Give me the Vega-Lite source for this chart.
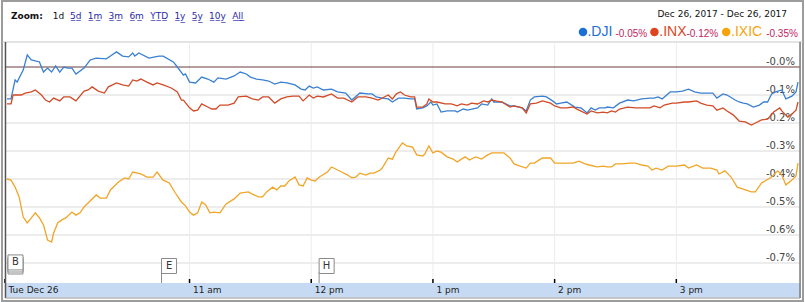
{
  "$schema": "https://vega.github.io/schema/vega-lite/v6.json",
  "width": 805,
  "height": 302,
  "autosize": {"type": "fit", "contains": "padding"},
  "padding": 0,
  "background": "white",
  "config": {"view": {"stroke": null}, "font": "DejaVu Sans"},
  "data": {"values": [{}]},
  "datasets": {
    "dji": [
      {"m":0,"v":-0.114},{"m":2,"v":-0.114},{"m":4,"v":-0.046},{"m":5,"v":-0.054},{"m":8,"v":-0.011},{"m":10,"v":0.043},{"m":12,"v":0.025},{"m":16,"v":0.018},{"m":18,"v":-0.018},{"m":20,"v":-0.004},{"m":22,"v":-0.018},{"m":24,"v":0.004},{"m":26,"v":-0.018},{"m":28,"v":0},{"m":30,"v":-0.004},{"m":32,"v":-0.004},{"m":34,"v":-0.025},{"m":38,"v":-0.004},{"m":41,"v":0.025},{"m":44,"v":0.032},{"m":49,"v":0.029},{"m":51,"v":0.039},{"m":54,"v":0.054},{"m":57,"v":0.039},{"m":60,"v":0.036},{"m":62,"v":0.05},{"m":63,"v":0.039},{"m":65,"v":0.05},{"m":70,"v":0.032},{"m":73,"v":0.036},{"m":75,"v":0.039},{"m":77,"v":0.039},{"m":82,"v":0.018},{"m":84,"v":0},{"m":87,"v":-0.029},{"m":88,"v":-0.025},{"m":90,"v":-0.054},{"m":93,"v":-0.057},{"m":96,"v":-0.036},{"m":99,"v":-0.043},{"m":102,"v":-0.054},{"m":104,"v":-0.039},{"m":108,"v":-0.043},{"m":112,"v":-0.032},{"m":115,"v":-0.018},{"m":118,"v":-0.025},{"m":120,"v":-0.036},{"m":123,"v":-0.043},{"m":126,"v":-0.046},{"m":129,"v":-0.05},{"m":132,"v":-0.061},{"m":135,"v":-0.054},{"m":138,"v":-0.057},{"m":142,"v":-0.064},{"m":145,"v":-0.079},{"m":147,"v":-0.082},{"m":149,"v":-0.068},{"m":151,"v":-0.075},{"m":153,"v":-0.071},{"m":156,"v":-0.082},{"m":160,"v":-0.079},{"m":163,"v":-0.089},{"m":167,"v":-0.093},{"m":170,"v":-0.118},{"m":174,"v":-0.093},{"m":178,"v":-0.096},{"m":180,"v":-0.096},{"m":182,"v":-0.107},{"m":185,"v":-0.111},{"m":188,"v":-0.114},{"m":190,"v":-0.125},{"m":193,"v":-0.111},{"m":196,"v":-0.111},{"m":199,"v":-0.114},{"m":201,"v":-0.114},{"m":202,"v":-0.15},{"m":205,"v":-0.146},{"m":207,"v":-0.139},{"m":209,"v":-0.125},{"m":210,"v":-0.136},{"m":212,"v":-0.132},{"m":214,"v":-0.161},{"m":217,"v":-0.157},{"m":221,"v":-0.157},{"m":222,"v":-0.161},{"m":225,"v":-0.15},{"m":227,"v":-0.154},{"m":232,"v":-0.146},{"m":234,"v":-0.132},{"m":237,"v":-0.136},{"m":239,"v":-0.114},{"m":240,"v":-0.125},{"m":244,"v":-0.125},{"m":248,"v":-0.139},{"m":250,"v":-0.139},{"m":254,"v":-0.146},{"m":256,"v":-0.157},{"m":258,"v":-0.118},{"m":260,"v":-0.107},{"m":264,"v":-0.104},{"m":266,"v":-0.107},{"m":269,"v":-0.121},{"m":271,"v":-0.132},{"m":273,"v":-0.129},{"m":276,"v":-0.125},{"m":280,"v":-0.143},{"m":283,"v":-0.146},{"m":286,"v":-0.164},{"m":288,"v":-0.146},{"m":290,"v":-0.154},{"m":292,"v":-0.146},{"m":295,"v":-0.146},{"m":296,"v":-0.143},{"m":299,"v":-0.146},{"m":302,"v":-0.129},{"m":306,"v":-0.118},{"m":309,"v":-0.121},{"m":313,"v":-0.114},{"m":317,"v":-0.111},{"m":319,"v":-0.111},{"m":321,"v":-0.107},{"m":323,"v":-0.114},{"m":327,"v":-0.089},{"m":330,"v":-0.089},{"m":333,"v":-0.086},{"m":336,"v":-0.079},{"m":339,"v":-0.089},{"m":342,"v":-0.093},{"m":345,"v":-0.093},{"m":348,"v":-0.093},{"m":350,"v":-0.111},{"m":353,"v":-0.096},{"m":355,"v":-0.1},{"m":359,"v":-0.118},{"m":361,"v":-0.125},{"m":363,"v":-0.129},{"m":365,"v":-0.132},{"m":368,"v":-0.143},{"m":371,"v":-0.136},{"m":373,"v":-0.125},{"m":375,"v":-0.125},{"m":377,"v":-0.096},{"m":379,"v":-0.089},{"m":382,"v":-0.082},{"m":384,"v":-0.114},{"m":387,"v":-0.104},{"m":389,"v":-0.089},{"m":390,"v":-0.054}
    ],
    "inx": [
      {"m":0,"v":-0.132},{"m":2,"v":-0.132},{"m":3,"v":-0.1},{"m":7,"v":-0.1},{"m":9,"v":-0.093},{"m":12,"v":-0.089},{"m":14,"v":-0.082},{"m":17,"v":-0.1},{"m":19,"v":-0.118},{"m":21,"v":-0.125},{"m":23,"v":-0.111},{"m":26,"v":-0.121},{"m":28,"v":-0.107},{"m":31,"v":-0.107},{"m":34,"v":-0.121},{"m":38,"v":-0.086},{"m":40,"v":-0.082},{"m":42,"v":-0.071},{"m":45,"v":-0.086},{"m":48,"v":-0.093},{"m":50,"v":-0.071},{"m":54,"v":-0.057},{"m":57,"v":-0.064},{"m":60,"v":-0.068},{"m":62,"v":-0.046},{"m":64,"v":-0.05},{"m":66,"v":-0.043},{"m":69,"v":-0.054},{"m":72,"v":-0.064},{"m":74,"v":-0.057},{"m":77,"v":-0.064},{"m":81,"v":-0.075},{"m":84,"v":-0.089},{"m":86,"v":-0.118},{"m":87,"v":-0.118},{"m":90,"v":-0.146},{"m":92,"v":-0.157},{"m":94,"v":-0.154},{"m":96,"v":-0.132},{"m":99,"v":-0.143},{"m":101,"v":-0.15},{"m":103,"v":-0.15},{"m":105,"v":-0.136},{"m":109,"v":-0.136},{"m":112,"v":-0.129},{"m":114,"v":-0.107},{"m":118,"v":-0.104},{"m":121,"v":-0.114},{"m":124,"v":-0.118},{"m":126,"v":-0.107},{"m":129,"v":-0.107},{"m":132,"v":-0.129},{"m":135,"v":-0.114},{"m":138,"v":-0.107},{"m":141,"v":-0.104},{"m":144,"v":-0.104},{"m":146,"v":-0.121},{"m":149,"v":-0.1},{"m":151,"v":-0.111},{"m":153,"v":-0.104},{"m":156,"v":-0.107},{"m":160,"v":-0.096},{"m":163,"v":-0.111},{"m":166,"v":-0.111},{"m":170,"v":-0.125},{"m":173,"v":-0.107},{"m":177,"v":-0.107},{"m":180,"v":-0.111},{"m":183,"v":-0.118},{"m":186,"v":-0.107},{"m":188,"v":-0.1},{"m":190,"v":-0.114},{"m":192,"v":-0.096},{"m":194,"v":-0.089},{"m":196,"v":-0.1},{"m":199,"v":-0.107},{"m":201,"v":-0.107},{"m":202,"v":-0.143},{"m":205,"v":-0.143},{"m":207,"v":-0.132},{"m":208,"v":-0.114},{"m":210,"v":-0.125},{"m":212,"v":-0.125},{"m":216,"v":-0.132},{"m":219,"v":-0.132},{"m":222,"v":-0.139},{"m":224,"v":-0.132},{"m":227,"v":-0.136},{"m":229,"v":-0.129},{"m":232,"v":-0.132},{"m":235,"v":-0.121},{"m":237,"v":-0.125},{"m":239,"v":-0.118},{"m":241,"v":-0.121},{"m":244,"v":-0.125},{"m":248,"v":-0.143},{"m":250,"v":-0.139},{"m":254,"v":-0.146},{"m":256,"v":-0.164},{"m":258,"v":-0.132},{"m":261,"v":-0.129},{"m":264,"v":-0.121},{"m":268,"v":-0.129},{"m":270,"v":-0.139},{"m":273,"v":-0.146},{"m":276,"v":-0.146},{"m":279,"v":-0.143},{"m":282,"v":-0.154},{"m":286,"v":-0.168},{"m":288,"v":-0.157},{"m":291,"v":-0.164},{"m":294,"v":-0.161},{"m":296,"v":-0.164},{"m":298,"v":-0.157},{"m":300,"v":-0.161},{"m":302,"v":-0.15},{"m":306,"v":-0.143},{"m":310,"v":-0.146},{"m":313,"v":-0.146},{"m":317,"v":-0.146},{"m":319,"v":-0.139},{"m":322,"v":-0.146},{"m":324,"v":-0.136},{"m":328,"v":-0.129},{"m":330,"v":-0.129},{"m":334,"v":-0.125},{"m":336,"v":-0.125},{"m":340,"v":-0.121},{"m":342,"v":-0.129},{"m":345,"v":-0.136},{"m":348,"v":-0.139},{"m":350,"v":-0.154},{"m":353,"v":-0.146},{"m":355,"v":-0.157},{"m":358,"v":-0.171},{"m":361,"v":-0.193},{"m":364,"v":-0.196},{"m":367,"v":-0.207},{"m":369,"v":-0.2},{"m":372,"v":-0.189},{"m":375,"v":-0.186},{"m":378,"v":-0.161},{"m":381,"v":-0.146},{"m":382,"v":-0.157},{"m":385,"v":-0.179},{"m":387,"v":-0.168},{"m":389,"v":-0.154},{"m":390,"v":-0.125}
    ],
    "ixic": [
      {"m":0,"v":-0.4},{"m":2,"v":-0.404},{"m":4,"v":-0.429},{"m":6,"v":-0.464},{"m":8,"v":-0.536},{"m":10,"v":-0.557},{"m":12,"v":-0.539},{"m":14,"v":-0.521},{"m":16,"v":-0.539},{"m":18,"v":-0.564},{"m":20,"v":-0.618},{"m":22,"v":-0.625},{"m":23,"v":-0.593},{"m":25,"v":-0.557},{"m":27,"v":-0.546},{"m":29,"v":-0.539},{"m":32,"v":-0.518},{"m":34,"v":-0.529},{"m":36,"v":-0.521},{"m":38,"v":-0.5},{"m":40,"v":-0.486},{"m":44,"v":-0.457},{"m":46,"v":-0.468},{"m":49,"v":-0.468},{"m":51,"v":-0.439},{"m":55,"v":-0.411},{"m":58,"v":-0.396},{"m":60,"v":-0.4},{"m":62,"v":-0.375},{"m":66,"v":-0.382},{"m":69,"v":-0.393},{"m":72,"v":-0.393},{"m":74,"v":-0.375},{"m":77,"v":-0.404},{"m":80,"v":-0.414},{"m":83,"v":-0.45},{"m":86,"v":-0.482},{"m":88,"v":-0.496},{"m":90,"v":-0.518},{"m":92,"v":-0.529},{"m":94,"v":-0.521},{"m":96,"v":-0.482},{"m":98,"v":-0.493},{"m":100,"v":-0.521},{"m":102,"v":-0.518},{"m":105,"v":-0.521},{"m":108,"v":-0.489},{"m":112,"v":-0.471},{"m":115,"v":-0.45},{"m":119,"v":-0.446},{"m":121,"v":-0.454},{"m":124,"v":-0.464},{"m":126,"v":-0.464},{"m":128,"v":-0.446},{"m":131,"v":-0.429},{"m":133,"v":-0.439},{"m":135,"v":-0.425},{"m":137,"v":-0.425},{"m":139,"v":-0.407},{"m":142,"v":-0.393},{"m":144,"v":-0.421},{"m":146,"v":-0.425},{"m":148,"v":-0.396},{"m":150,"v":-0.404},{"m":152,"v":-0.407},{"m":154,"v":-0.393},{"m":158,"v":-0.375},{"m":160,"v":-0.357},{"m":163,"v":-0.368},{"m":165,"v":-0.375},{"m":168,"v":-0.386},{"m":170,"v":-0.396},{"m":172,"v":-0.393},{"m":174,"v":-0.379},{"m":177,"v":-0.386},{"m":179,"v":-0.379},{"m":181,"v":-0.379},{"m":184,"v":-0.368},{"m":185,"v":-0.361},{"m":188,"v":-0.325},{"m":190,"v":-0.329},{"m":192,"v":-0.3},{"m":195,"v":-0.271},{"m":197,"v":-0.282},{"m":200,"v":-0.286},{"m":202,"v":-0.314},{"m":205,"v":-0.318},{"m":206,"v":-0.311},{"m":208,"v":-0.282},{"m":210,"v":-0.307},{"m":212,"v":-0.3},{"m":214,"v":-0.304},{"m":217,"v":-0.321},{"m":220,"v":-0.329},{"m":222,"v":-0.339},{"m":224,"v":-0.329},{"m":226,"v":-0.321},{"m":228,"v":-0.332},{"m":231,"v":-0.321},{"m":234,"v":-0.329},{"m":237,"v":-0.314},{"m":239,"v":-0.307},{"m":242,"v":-0.307},{"m":245,"v":-0.307},{"m":248,"v":-0.325},{"m":250,"v":-0.346},{"m":253,"v":-0.354},{"m":256,"v":-0.361},{"m":258,"v":-0.343},{"m":260,"v":-0.343},{"m":263,"v":-0.329},{"m":264,"v":-0.325},{"m":268,"v":-0.325},{"m":270,"v":-0.343},{"m":273,"v":-0.343},{"m":276,"v":-0.343},{"m":279,"v":-0.343},{"m":282,"v":-0.336},{"m":285,"v":-0.346},{"m":287,"v":-0.35},{"m":291,"v":-0.357},{"m":294,"v":-0.354},{"m":296,"v":-0.357},{"m":298,"v":-0.357},{"m":300,"v":-0.346},{"m":303,"v":-0.346},{"m":307,"v":-0.343},{"m":310,"v":-0.343},{"m":313,"v":-0.35},{"m":316,"v":-0.354},{"m":318,"v":-0.368},{"m":320,"v":-0.361},{"m":323,"v":-0.368},{"m":326,"v":-0.354},{"m":330,"v":-0.354},{"m":334,"v":-0.35},{"m":336,"v":-0.361},{"m":340,"v":-0.35},{"m":343,"v":-0.361},{"m":347,"v":-0.361},{"m":350,"v":-0.368},{"m":351,"v":-0.382},{"m":354,"v":-0.371},{"m":357,"v":-0.393},{"m":360,"v":-0.429},{"m":363,"v":-0.436},{"m":367,"v":-0.446},{"m":369,"v":-0.446},{"m":372,"v":-0.414},{"m":377,"v":-0.393},{"m":380,"v":-0.371},{"m":382,"v":-0.386},{"m":384,"v":-0.421},{"m":387,"v":-0.404},{"m":389,"v":-0.389},{"m":390,"v":-0.343}
    ],
    "levels": [{"v":-0.1},{"v":-0.2},{"v":-0.3},{"v":-0.4},{"v":-0.5},{"v":-0.6},{"v":-0.7}],
    "ylabels": [{"v":0,"label":"-0.0%"},{"v":-0.1,"label":"-0.1%"},{"v":-0.2,"label":"-0.2%"},{"v":-0.3,"label":"-0.3%"},{"v":-0.4,"label":"-0.4%"},{"v":-0.5,"label":"-0.5%"},{"v":-0.6,"label":"-0.6%"},{"v":-0.7,"label":"-0.7%"}],
    "hours": [{"m":90},{"m":150},{"m":210},{"m":270},{"m":330}],
    "xlabels": [{"m":-1,"label":"Tue Dec 26"},{"m":90,"label":"11 am"},{"m":150,"label":"12 pm"},{"m":210,"label":"1 pm"},{"m":270,"label":"2 pm"},{"m":330,"label":"3 pm"}],
    "flags": [{"label":"E","m":76.2},{"label":"H","m":153.9}]
  },
  "layer": [
    {
      "mark": {"type": "rect", "fill": null, "stroke": "#9c9c9c", "strokeWidth": 2},
      "encoding": {
        "x": {"datum": -2.46, "type": "quantitative", "axis": null, "scale": {"domain": [-2.95, 392.95], "nice": false, "zero": false}},
        "x2": {"datum": 392.46},
        "y": {"datum": 0.2357, "type": "quantitative", "axis": null, "scale": {"domain": [-0.8393, 0.2393], "nice": false, "zero": false}},
        "y2": {"datum": -0.8357}
      }
    },
    {
      "mark": {"type": "rule", "color": "#c8c8c8", "strokeWidth": 1},
      "encoding": {
        "x": {"datum": -2.46, "type": "quantitative", "axis": null},
        "x2": {"datum": 392.46},
        "y": {"datum": 0.0893, "type": "quantitative", "axis": null}
      }
    },
    {
      "mark": {"type": "rect", "fill": "#c6dbf3"},
      "encoding": {
        "x": {"datum": -0.74, "type": "quantitative", "axis": null},
        "x2": {"datum": 391},
        "y": {"datum": -0.7714, "type": "quantitative", "axis": null},
        "y2": {"datum": -0.8214}
      }
    },
    {
      "data": {"name": "levels"},
      "mark": {"type": "rule", "color": "#dadada", "strokeWidth": 1},
      "encoding": {
        "x": {"datum": -0.74, "type": "quantitative", "axis": null},
        "x2": {"datum": 391},
        "y": {"field": "v", "type": "quantitative", "axis": null}
      }
    },
    {
      "data": {"name": "hours"},
      "mark": {"type": "rule", "color": "#ececec", "strokeWidth": 1},
      "encoding": {
        "x": {"field": "m", "type": "quantitative", "axis": null},
        "y": {"datum": 0.0893, "type": "quantitative", "axis": null},
        "y2": {"datum": -0.7714}
      }
    },
    {
      "mark": {"type": "rule", "color": "#6e3d3d", "strokeWidth": 1},
      "encoding": {
        "x": {"datum": -0.74, "type": "quantitative", "axis": null},
        "x2": {"datum": 391},
        "y": {"datum": 0, "type": "quantitative", "axis": null}
      }
    },
    {
      "data": {"name": "ylabels"},
      "mark": {"type": "text", "font": "DejaVu Sans", "fontSize": 10, "color": "#444444", "align": "right", "baseline": "alphabetic", "dy": -2},
      "encoding": {
        "x": {"datum": 388.5, "type": "quantitative", "axis": null},
        "y": {"field": "v", "type": "quantitative", "axis": null},
        "text": {"field": "label"}
      }
    },
    {
      "data": {"name": "dji"},
      "mark": {"type": "line", "color": "#3a80d2", "strokeWidth": 1.3},
      "encoding": {
        "x": {"field": "m", "type": "quantitative", "axis": null},
        "y": {"field": "v", "type": "quantitative", "axis": null}
      }
    },
    {
      "data": {"name": "inx"},
      "mark": {"type": "line", "color": "#d24b27", "strokeWidth": 1.3},
      "encoding": {
        "x": {"field": "m", "type": "quantitative", "axis": null},
        "y": {"field": "v", "type": "quantitative", "axis": null}
      }
    },
    {
      "data": {"name": "ixic"},
      "mark": {"type": "line", "color": "#f1a526", "strokeWidth": 1.3},
      "encoding": {
        "x": {"field": "m", "type": "quantitative", "axis": null},
        "y": {"field": "v", "type": "quantitative", "axis": null}
      }
    },
    {
      "data": {"name": "flags"},
      "mark": {"type": "rule", "color": "#8a8a8a", "strokeWidth": 1},
      "encoding": {
        "x": {"field": "m", "type": "quantitative", "axis": null},
        "y": {"datum": -0.7321, "type": "quantitative", "axis": null},
        "y2": {"datum": -0.7714}
      }
    },
    {
      "data": {"name": "flags"},
      "mark": {"type": "point", "shape": "square", "size": 225, "filled": true, "fill": "white", "stroke": "#8a8a8a", "strokeWidth": 1, "opacity": 1, "xOffset": 7.5},
      "encoding": {
        "x": {"field": "m", "type": "quantitative", "axis": null},
        "y": {"datum": -0.7107, "type": "quantitative", "axis": null}
      }
    },
    {
      "data": {"name": "flags"},
      "mark": {"type": "text", "xOffset": 7.5, "font": "DejaVu Sans", "fontSize": 10, "color": "#333333", "align": "center", "baseline": "middle"},
      "encoding": {
        "x": {"field": "m", "type": "quantitative", "axis": null},
        "y": {"datum": -0.7107, "type": "quantitative", "axis": null},
        "text": {"field": "label"}
      }
    },
    {
      "mark": {"type": "point", "shape": "square", "size": 225, "filled": true, "fill": "white", "stroke": "#8a8a8a", "strokeWidth": 1, "opacity": 1, "xOffset": 7.5},
      "encoding": {
        "x": {"datum": 0.5, "type": "quantitative", "axis": null},
        "y": {"datum": -0.7125, "type": "quantitative", "axis": null}
      }
    },
    {
      "mark": {"type": "point", "shape": "square", "size": 225, "filled": true, "fill": "white", "stroke": "#8a8a8a", "strokeWidth": 1, "opacity": 1, "xOffset": 7.5},
      "encoding": {
        "x": {"datum": 0.5, "type": "quantitative", "axis": null},
        "y": {"datum": -0.7054, "type": "quantitative", "axis": null}
      }
    },
    {
      "mark": {"type": "point", "shape": "square", "size": 225, "filled": true, "fill": "white", "stroke": "#8a8a8a", "strokeWidth": 1, "opacity": 1, "xOffset": 7.5},
      "encoding": {
        "x": {"datum": 0.5, "type": "quantitative", "axis": null},
        "y": {"datum": -0.698, "type": "quantitative", "axis": null}
      }
    },
    {
      "mark": {"type": "text", "xOffset": 7.5, "font": "DejaVu Sans", "fontSize": 10, "color": "#333333", "align": "center", "baseline": "middle", "text": "B"},
      "encoding": {
        "x": {"datum": 0.5, "type": "quantitative", "axis": null},
        "y": {"datum": -0.698, "type": "quantitative", "axis": null}
      }
    },
    {
      "data": {"name": "xlabels"},
      "mark": {"type": "rule", "color": "#000000", "strokeWidth": 1.5},
      "encoding": {
        "x": {"field": "m", "type": "quantitative", "axis": null},
        "y": {"datum": -0.7571, "type": "quantitative", "axis": null},
        "y2": {"datum": -0.7714}
      }
    },
    {
      "data": {"name": "xlabels"},
      "mark": {"type": "text", "xOffset": 3.5, "font": "DejaVu Sans", "fontSize": 9, "color": "#222222", "align": "left", "baseline": "alphabetic"},
      "encoding": {
        "x": {"field": "m", "type": "quantitative", "axis": null},
        "y": {"datum": -0.8071, "type": "quantitative", "axis": null},
        "text": {"field": "label"}
      }
    },
    {
      "mark": {"type": "rule", "color": "#555555", "strokeWidth": 1.5},
      "encoding": {
        "x": {"datum": -0.74, "type": "quantitative", "axis": null},
        "y": {"datum": 0.0893, "type": "quantitative", "axis": null},
        "y2": {"datum": -0.825}
      }
    },
    {
      "mark": {"type": "rule", "color": "#777777", "strokeWidth": 1.5},
      "encoding": {
        "x": {"datum": 391, "type": "quantitative", "axis": null},
        "y": {"datum": 0.0893, "type": "quantitative", "axis": null},
        "y2": {"datum": -0.825}
      }
    },
    {
      "mark": {"type": "rule", "color": "#8c8c8c", "strokeWidth": 1},
      "encoding": {
        "x": {"datum": -0.74, "type": "quantitative", "axis": null},
        "x2": {"datum": 391},
        "y": {"datum": -0.825, "type": "quantitative", "axis": null}
      }
    },
    {
      "mark": {"type": "text", "text": "Zoom:", "font": "DejaVu Sans", "fontSize": 9, "fontWeight": "bold", "color": "#111111", "align": "left", "baseline": "alphabetic"},
      "encoding": {
        "x": {"datum": 1.97, "type": "quantitative", "axis": null},
        "y": {"datum": 0.1714, "type": "quantitative", "axis": null}
      }
    },
    {
      "mark": {"type": "text", "text": "1d", "font": "DejaVu Sans", "fontSize": 9, "color": "#111111", "align": "left", "baseline": "alphabetic"},
      "encoding": {
        "x": {"datum": 22.6, "type": "quantitative", "axis": null},
        "y": {"datum": 0.1714, "type": "quantitative", "axis": null}
      }
    },
    {
      "mark": {"type": "text", "text": "5\u0332d\u0332\u2002\u20091\u0332m\u0332\u2002\u20093\u0332m\u0332\u2002\u20096\u0332m\u0332\u2002\u2009Y\u0332T\u0332D\u0332\u2002\u20091\u0332y\u0332\u2002\u20095\u0332y\u0332\u2002\u20091\u03320\u0332y\u0332\u2002\u2009A\u0332l\u0332l\u0332", "font": "DejaVu Sans", "fontSize": 9, "color": "#2a2aaa", "align": "left", "baseline": "alphabetic"},
      "encoding": {
        "x": {"datum": 31.1, "type": "quantitative", "axis": null},
        "y": {"datum": 0.1714, "type": "quantitative", "axis": null}
      }
    },
    {
      "mark": {"type": "text", "text": "Dec 26, 2017  -  Dec 26, 2017", "font": "DejaVu Sans", "fontSize": 9, "color": "#111111", "align": "right", "baseline": "alphabetic"},
      "encoding": {
        "x": {"datum": 384.6, "type": "quantitative", "axis": null},
        "y": {"datum": 0.1786, "type": "quantitative", "axis": null}
      }
    },
    {
      "mark": {"type": "point", "shape": "circle", "size": 72, "filled": true, "opacity": 1, "color": "#1d6fd8"},
      "encoding": {
        "x": {"datum": 284.0, "type": "quantitative", "axis": null},
        "y": {"datum": 0.125, "type": "quantitative", "axis": null}
      }
    },
    {
      "mark": {"type": "point", "shape": "circle", "size": 72, "filled": true, "opacity": 1, "color": "#dc451e"},
      "encoding": {
        "x": {"datum": 319.2, "type": "quantitative", "axis": null},
        "y": {"datum": 0.125, "type": "quantitative", "axis": null}
      }
    },
    {
      "mark": {"type": "point", "shape": "circle", "size": 72, "filled": true, "opacity": 1, "color": "#f7a30c"},
      "encoding": {
        "x": {"datum": 354.6, "type": "quantitative", "axis": null},
        "y": {"datum": 0.125, "type": "quantitative", "axis": null}
      }
    },
    {
      "mark": {"type": "text", "text": ".DJI", "font": "Liberation Sans", "fontSize": 14, "color": "#1d6fd8", "align": "left", "baseline": "alphabetic"},
      "encoding": {
        "x": {"datum": 286.2, "type": "quantitative", "axis": null},
        "y": {"datum": 0.1107, "type": "quantitative", "axis": null}
      }
    },
    {
      "mark": {"type": "text", "text": ".INX", "font": "Liberation Sans", "fontSize": 14, "color": "#dc451e", "align": "left", "baseline": "alphabetic"},
      "encoding": {
        "x": {"datum": 321.6, "type": "quantitative", "axis": null},
        "y": {"datum": 0.1107, "type": "quantitative", "axis": null}
      }
    },
    {
      "mark": {"type": "text", "text": ".IXIC", "font": "Liberation Sans", "fontSize": 14, "color": "#f7a30c", "align": "left", "baseline": "alphabetic"},
      "encoding": {
        "x": {"datum": 357.0, "type": "quantitative", "axis": null},
        "y": {"datum": 0.1107, "type": "quantitative", "axis": null}
      }
    },
    {
      "mark": {"type": "text", "text": "-0.05%", "font": "Liberation Sans", "fontSize": 10, "color": "#c0245e", "align": "left", "baseline": "alphabetic"},
      "encoding": {
        "x": {"datum": 300.0, "type": "quantitative", "axis": null},
        "y": {"datum": 0.1054, "type": "quantitative", "axis": null}
      }
    },
    {
      "mark": {"type": "text", "text": "-0.12%", "font": "Liberation Sans", "fontSize": 10, "color": "#c0245e", "align": "left", "baseline": "alphabetic"},
      "encoding": {
        "x": {"datum": 335.0, "type": "quantitative", "axis": null},
        "y": {"datum": 0.1054, "type": "quantitative", "axis": null}
      }
    },
    {
      "mark": {"type": "text", "text": "-0.35%", "font": "Liberation Sans", "fontSize": 10, "color": "#c0245e", "align": "left", "baseline": "alphabetic"},
      "encoding": {
        "x": {"datum": 374.3, "type": "quantitative", "axis": null},
        "y": {"datum": 0.1054, "type": "quantitative", "axis": null}
      }
    }
  ]
}
